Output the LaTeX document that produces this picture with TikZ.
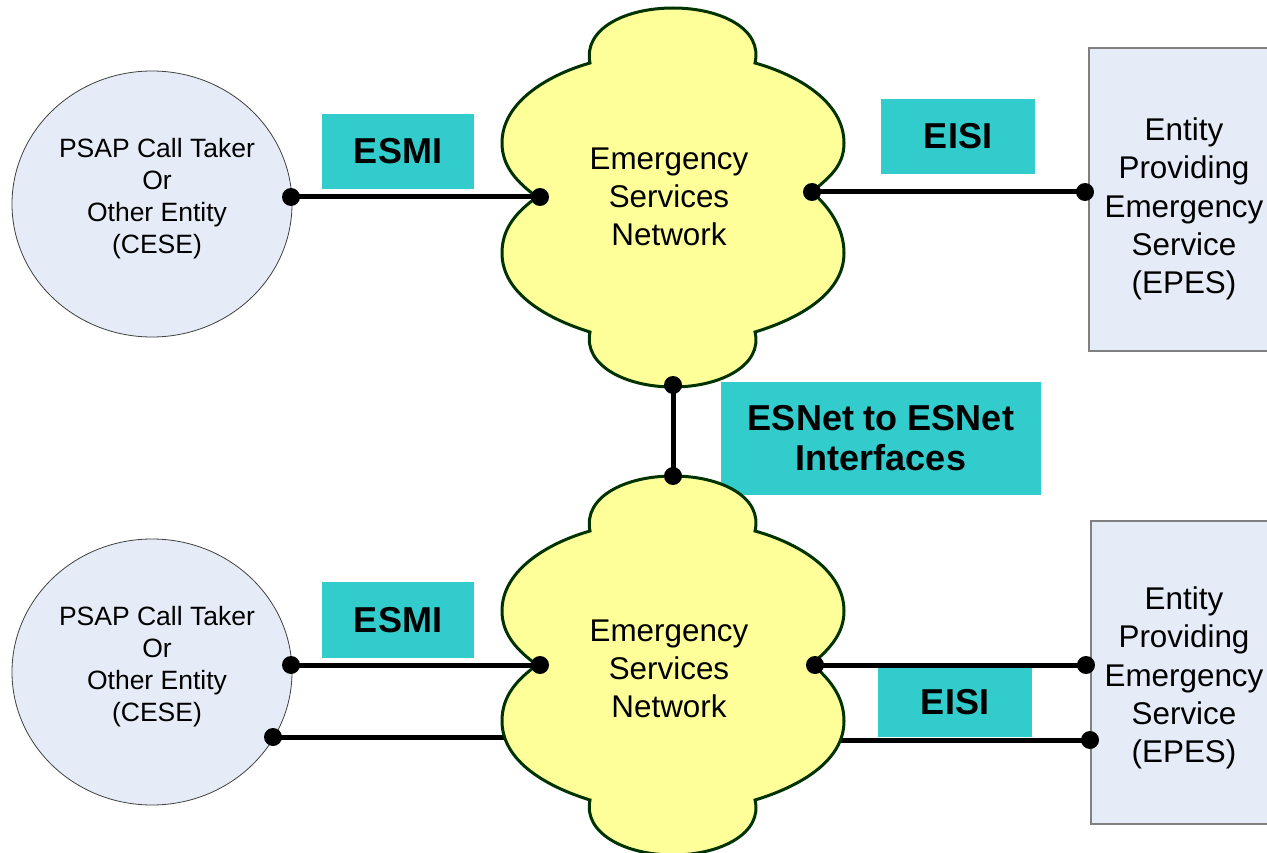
\documentclass[tikz,border=0pt]{standalone}
\usepackage{fontspec}
\setmainfont{Liberation Sans}
\usetikzlibrary{shapes.geometric}
\definecolor{cloudfill}{HTML}{FFFF99}
\definecolor{cloudline}{HTML}{003300}
\definecolor{entfill}{HTML}{E6ECF7}
\definecolor{labfill}{HTML}{33CCCC}
\definecolor{rectline}{HTML}{808080}
\tikzset{
  cloudstyle/.style={fill=cloudfill, draw=cloudline, line width=3pt},
  esncloud/.pic={
    \draw[cloudstyle] (-83,-134) .. controls (-90,-168) and (-48,-189) .. (0,-189)
      .. controls (48,-189) and (90,-168) .. (82,-134)
      .. controls (125,-122) and (171,-95) .. (171,-54)
      .. controls (171,-30) and (155,-14+#1) .. (139,#1)
      .. controls (155,14+#1) and (171,30) .. (171,56)
      .. controls (171,97) and (125,122) .. (82,135)
      .. controls (90,168) and (48,190) .. (0,190)
      .. controls (-48,190) and (-90,168) .. (-83,135)
      .. controls (-125,122) and (-171,97) .. (-171,56)
      .. controls (-171,30) and (-155,14) .. (-136,0)
      .. controls (-155,-14) and (-171,-30) .. (-171,-54)
      .. controls (-171,-95) and (-125,-122) .. (-83,-134) -- cycle;
  },
  psap/.style={ellipse, fill=entfill, draw=black!75, line width=0.8pt,
    minimum width=280pt, minimum height=266pt, inner sep=0pt},
  epes/.style={rectangle, fill=entfill, draw=rectline, line width=1.5pt,
    minimum width=200pt, minimum height=303pt, inner sep=0pt, anchor=west},
  psaptext/.style={align=center, inner sep=0pt, font=\fontsize{26.5}{32}\selectfont},
  bigtext/.style={align=center, inner sep=0pt, font=\fontsize{31.4}{38.3}\selectfont},
  lab/.style={fill=labfill, inner sep=0pt, align=center,
    font=\bfseries\fontsize{36}{40}\selectfont},
  conn/.style={line width=5pt, black},
  dot/.style={circle, fill=black, minimum size=18pt, inner sep=0pt},
}
\begin{document}
\begin{tikzpicture}[x=1pt,y=-1pt]
\useasboundingbox (0,0) rectangle (1267,853);
\fill[white] (0,0) rectangle (1267,853);

% entities
\node[psap] (cese1) at (152,204) {};
\node[psaptext] (cese1t) at (157,199) {PSAP Call Taker\\Or\\Other Entity\\(CESE)};
\node[psap] (cese2) at (152,672) {};
\node[psaptext] (cese2t) at (157,667) {PSAP Call Taker\\Or\\Other Entity\\(CESE)};
\node[epes] (epes1) at (1088,199.5) {};
\node[bigtext] (epes1t) at (1184,209) {Entity\\Providing\\Emergency\\Service\\(EPES)};
\node[epes] (epes2) at (1090,672.5) {};
\node[bigtext] (epes2t) at (1184,678) {Entity\\Providing\\Emergency\\Service\\(EPES)};

% labels
\node[lab, minimum width=152pt, minimum height=75pt] (esmi1) at (398,151.5) {ESMI};
\node[lab, minimum width=154pt, minimum height=75pt] (eisi1) at (958,136.5) {EISI};
\node[lab, minimum width=320pt, minimum height=113pt] (esnet) at (881,438.5) {ESNet to ESNet\\Interfaces};
\node[lab, minimum width=152pt, minimum height=76pt] (esmi2) at (398,620) {ESMI};
\node[lab, minimum width=154pt, minimum height=69pt] (eisi2) at (955,702.5) {EISI};

% connection points
\coordinate (a1) at (291,197);
\coordinate (a2) at (540,197);
\coordinate (b1) at (812,192);
\coordinate (b2) at (1085,192);
\coordinate (c1) at (673,385);
\coordinate (c2) at (673,476);
\coordinate (e1) at (291,665);
\coordinate (e2) at (540,665);
\coordinate (f1) at (273,737);
\coordinate (f2) at (560,737);
\coordinate (g1) at (815,665);
\coordinate (g2) at (1086,665);
\coordinate (h1) at (800,740);
\coordinate (h2) at (1090,740);

% connectors
\draw[conn] (a1) -- (a2);
\draw[conn] (b1) -- (b2);
\draw[conn] (c1) -- (c2);
\draw[conn] (e1) -- (e2);
\draw[conn] (f1) -- (f2);
\draw[conn] (g1) -- (g2);
\draw[conn] (h1) -- (h2);

% clouds
\pic at (673,197) {esncloud=-5};
\node[bigtext] (esn1) at (669,197) {Emergency\\Services\\Network};
\pic at (673,665) {esncloud=-1};
\node[bigtext] (esn2) at (669,669) {Emergency\\Services\\Network};

% dots
\foreach \p in {a1,a2,b1,b2,c1,c2,e1,e2,f1,g1,g2,h2}
  \node[dot] at (\p) {};
\end{tikzpicture}
\end{document}
